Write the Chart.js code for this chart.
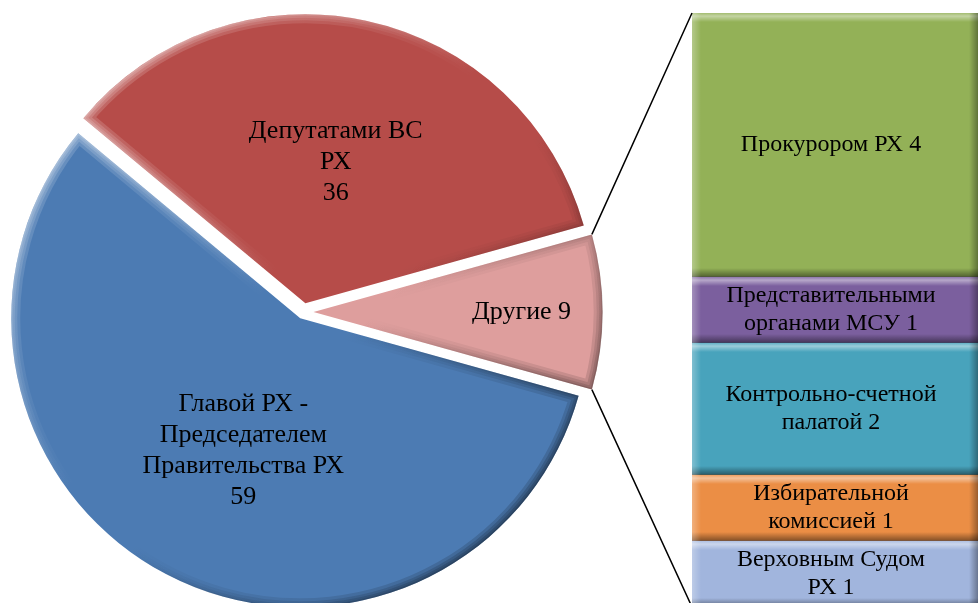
<!DOCTYPE html>
<html>
<head>
<meta charset="utf-8">
<script src="https://cdn.jsdelivr.net/npm/chart.js@4.4.1/dist/chart.umd.min.js"></script>
<style>
  html, body { margin:0; padding:0; background:#fff; overflow:hidden; }
  #wrap { position:relative; width:979px; height:603px; overflow:hidden; background:#fff; }
  #pie { position:absolute; left:0; top:0; }
  #bar { position:absolute; left:692px; top:0; }
  #lines { position:absolute; left:0; top:0; pointer-events:none; }
</style>
</head>
<body>
<div id="wrap">
  <canvas id="pie" width="979" height="603"></canvas>
  <canvas id="bar" width="286" height="620"></canvas>
  <canvas id="lines" width="979" height="603"></canvas>
</div>
<script>
// ---------- DATA ----------
const pieCategories = ["Главой РХ - Председателем Правительства РХ", "Депутатами ВС РХ", "Другие"];
const pieValues = [59, 36, 9];
const pieLabelLines = [["Главой РХ -", "Председателем", "Правительства РХ"], ["Депутатами ВС", "РХ"], ["Другие"]];
const pieValueOwnLine = [true, true, false];

const barCategories = ["Верховным Судом РХ", "Избирательной комиссией", "Контрольно-счетной палатой", "Представительными органами МСУ", "Прокурором РХ"];
const barValues = [1, 1, 2, 1, 4];
const barLabelLines = [["Верховным Судом", "РХ"], ["Избирательной", "комиссией"], ["Контрольно-счетной", "палатой"], ["Представительными", "органами МСУ"], ["Прокурором РХ"]];

// ---------- STYLE ----------
const pieColors = ["#4C7BB3", "#B64C49", "#DE9E9D"];
const barColors = ["#A1B5DD", "#EB8E45", "#48A3BC", "#7B5F9E", "#93B157"];
const PIE_R = 289;
const explodePx = [7, 9, 10];
const pieLabelPos = [{t:0.478, r:0.5}, {t:0.5, r:0.5}, {t:0.5, r:0.72}];
const FONT = '"Liberation Serif", "Times New Roman", serif';

const pieTotal = pieValues.reduce((a,b)=>a+b,0);
const barTotal = barValues.reduce((a,b)=>a+b,0);
// rotate so the last ("Другие") slice is centred on the right side
const pieRotation = 90 + (pieValues[pieValues.length-1] / pieTotal * 360) / 2;

function bevelGradient(ctx, x0, y0, x1, y1, strength) {
  const g = ctx.createLinearGradient(x0, y0, x1, y1);
  g.addColorStop(0, 'rgba(255,255,255,' + (0.6*strength) + ')');
  g.addColorStop(0.45, 'rgba(255,255,255,0)');
  g.addColorStop(0.55, 'rgba(0,0,0,0)');
  g.addColorStop(1, 'rgba(0,0,0,' + (0.55*strength) + ')');
  return g;
}

const explodePlugin = {
  id: 'explode',
  afterDatasetsUpdate(chart) {
    const meta = chart.getDatasetMeta(0);
    meta.data.forEach((arc, i) => {
      const mid = (arc.startAngle + arc.endAngle) / 2;
      arc.x += Math.cos(mid) * explodePx[i];
      arc.y += Math.sin(mid) * explodePx[i];
      arc.outerRadius = PIE_R;
    });
  }
};

const arcBevelPlugin = {
  id: 'arcBevel',
  afterDatasetsDraw(chart) {
    const ctx = chart.ctx;
    const meta = chart.getDatasetMeta(0);
    meta.data.forEach((arc) => {
      const {x, y, startAngle, endAngle, outerRadius} = arc;
      const path = () => {
        ctx.beginPath();
        ctx.moveTo(x, y);
        ctx.arc(x, y, outerRadius, startAngle, endAngle);
        ctx.closePath();
      };
      ctx.save();
      path();
      ctx.clip();
      ctx.lineJoin = 'round';
      const widths = [18, 12, 7, 3];
      widths.forEach((w) => {
        ctx.strokeStyle = bevelGradient(ctx, x - outerRadius, y - outerRadius, x + outerRadius, y + outerRadius, 0.4);
        ctx.lineWidth = w;
        path();
        ctx.stroke();
      });
      ctx.restore();
    });
  }
};

const pieLabelPlugin = {
  id: 'pieLabels',
  afterDraw(chart) {
    const ctx = chart.ctx;
    const meta = chart.getDatasetMeta(0);
    ctx.save();
    ctx.fillStyle = '#000';
    ctx.font = '26px ' + FONT;
    ctx.textAlign = 'center';
    ctx.textBaseline = 'middle';
    const lh = 31;
    meta.data.forEach((arc, i) => {
      const lines = pieLabelLines[i].slice();
      if (pieValueOwnLine[i]) lines.push(String(pieValues[i]));
      else lines[lines.length-1] += ' ' + pieValues[i];
      const ang = arc.startAngle + (arc.endAngle - arc.startAngle) * pieLabelPos[i].t;
      const cx = arc.x + Math.cos(ang) * arc.outerRadius * pieLabelPos[i].r;
      const cy = arc.y + Math.sin(ang) * arc.outerRadius * pieLabelPos[i].r;
      const y0 = cy - (lines.length - 1) * lh / 2;
      lines.forEach((l, k) => ctx.fillText(l, cx, y0 + k * lh));
    });
    ctx.restore();
  }
};

const pieChart = new Chart(document.getElementById('pie'), {
  type: 'pie',
  data: {
    labels: pieCategories,
    datasets: [{
      data: pieValues,
      backgroundColor: pieColors,
      borderWidth: 0,
      radius: PIE_R,
      clip: false
    }]
  },
  options: {
    responsive: false,
    animation: false,
    events: [],
    rotation: pieRotation,
    layout: { padding: { left: 0, right: 372, top: 21, bottom: 0 } },
    plugins: { legend: { display: false }, tooltip: { enabled: false } }
  },
  plugins: [explodePlugin, arcBevelPlugin, pieLabelPlugin]
});

const barBevelPlugin = {
  id: 'barBevel',
  afterDatasetsDraw(chart) {
    const ctx = chart.ctx;
    chart.data.datasets.forEach((ds, di) => {
      const el = chart.getDatasetMeta(di).data[0];
      const left = el.x - el.width / 2, right = el.x + el.width / 2;
      const top = Math.min(el.y, el.base), bottom = Math.max(el.y, el.base);
      const b = 9;
      ctx.save();
      ctx.beginPath(); ctx.rect(left, top, right - left, bottom - top); ctx.clip();
      let g = ctx.createLinearGradient(0, top, 0, top + b);
      g.addColorStop(0, 'rgba(255,255,255,0.15)');
      g.addColorStop(0.35, 'rgba(255,255,255,0.45)');
      g.addColorStop(1, 'rgba(255,255,255,0)');
      ctx.fillStyle = g; ctx.fillRect(left, top, right - left, b);
      g = ctx.createLinearGradient(0, bottom - b, 0, bottom);
      g.addColorStop(0, 'rgba(0,0,0,0)');
      g.addColorStop(1, 'rgba(0,0,0,0.45)');
      ctx.fillStyle = g; ctx.fillRect(left, bottom - b, right - left, b);
      g = ctx.createLinearGradient(left, 0, left + b, 0);
      g.addColorStop(0, 'rgba(255,255,255,0.3)');
      g.addColorStop(1, 'rgba(255,255,255,0)');
      ctx.fillStyle = g; ctx.fillRect(left, top, b, bottom - top);
      g = ctx.createLinearGradient(right - b, 0, right, 0);
      g.addColorStop(0, 'rgba(0,0,0,0)');
      g.addColorStop(1, 'rgba(0,0,0,0.35)');
      ctx.fillStyle = g; ctx.fillRect(right - b, top, b, bottom - top);
      ctx.restore();
    });
  }
};

const barLabelPlugin = {
  id: 'barLabels',
  afterDraw(chart) {
    const ctx = chart.ctx;
    ctx.save();
    ctx.fillStyle = '#000';
    ctx.font = '24px ' + FONT;
    ctx.textAlign = 'center';
    ctx.textBaseline = 'middle';
    const lh = 28;
    chart.data.datasets.forEach((ds, di) => {
      const el = chart.getDatasetMeta(di).data[0];
      const lines = barLabelLines[di].slice();
      lines[lines.length-1] += ' ' + barValues[di];
      const cy = (el.y + el.base) / 2;
      const y0 = cy - (lines.length - 1) * lh / 2;
      lines.forEach((l, k) => ctx.fillText(l, el.x - 4, y0 + k * lh));
    });
    ctx.restore();
  }
};

const barChart = new Chart(document.getElementById('bar'), {
  type: 'bar',
  data: {
    labels: [''],
    datasets: barCategories.map((c, i) => ({
      label: c,
      data: [barValues[i]],
      backgroundColor: barColors[i],
      borderWidth: 0,
      barPercentage: 1,
      categoryPercentage: 1
    }))
  },
  options: {
    responsive: false,
    animation: false,
    events: [],
    layout: { padding: { top: 13, bottom: 13, left: 0, right: 0 } },
    scales: {
      x: { display: false, stacked: true },
      y: { display: false, stacked: true, min: 0, max: barTotal }
    },
    plugins: { legend: { display: false }, tooltip: { enabled: false } }
  },
  plugins: [barBevelPlugin, barLabelPlugin]
});

// ---------- connector lines ----------
(function drawConnectors() {
  const lc = document.getElementById('lines').getContext('2d');
  const arcs = pieChart.getDatasetMeta(0).data;
  const other = arcs[arcs.length - 1];
  const barLeftPx = document.getElementById('bar').offsetLeft;
  const topEl = barChart.getDatasetMeta(barCategories.length - 1).data[0];
  const botEl = barChart.getDatasetMeta(0).data[0];
  const p1 = [other.x + other.outerRadius * Math.cos(other.startAngle), other.y + other.outerRadius * Math.sin(other.startAngle)];
  const p2 = [other.x + other.outerRadius * Math.cos(other.endAngle), other.y + other.outerRadius * Math.sin(other.endAngle)];
  const q1 = [barLeftPx + topEl.x - topEl.width / 2, Math.min(topEl.y, topEl.base)];
  const q2 = [barLeftPx + botEl.x - botEl.width / 2, Math.max(botEl.y, botEl.base)];
  lc.strokeStyle = '#000';
  lc.lineWidth = 1.5;
  lc.beginPath();
  lc.moveTo(p1[0], p1[1]); lc.lineTo(q1[0], q1[1]);
  lc.moveTo(p2[0], p2[1]); lc.lineTo(q2[0], q2[1]);
  lc.stroke();
})();
</script>
</body>
</html>
